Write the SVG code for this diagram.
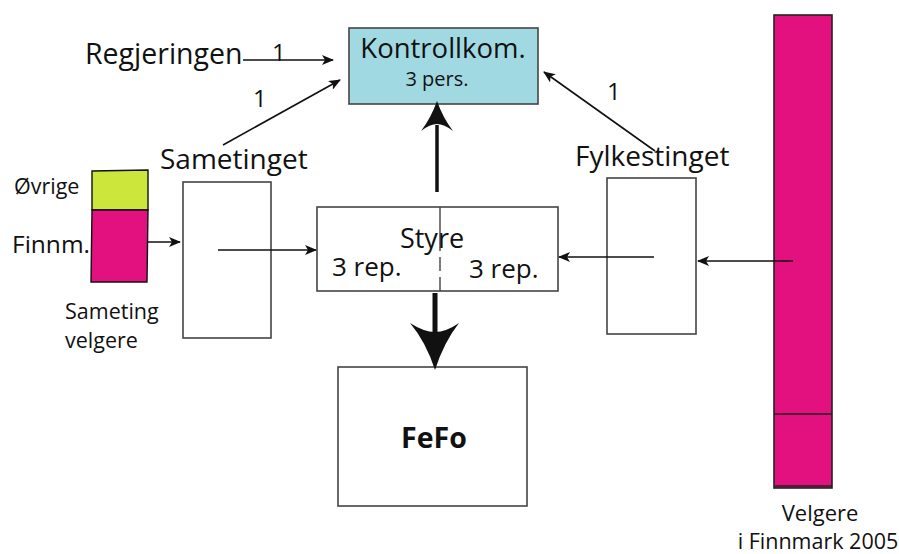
<svg xmlns="http://www.w3.org/2000/svg" width="899" height="554" viewBox="0 0 899 554">
<style>
text{font-family:"Open Sans","Liberation Sans",sans-serif;fill:#111}
.box{fill:#fff;stroke:#444;stroke-width:1.6}
.ln{stroke:#111;stroke-width:1.6;fill:none}
</style>
<defs>
<marker id="ah" viewBox="0 0 12 10" refX="11" refY="5" markerWidth="12" markerHeight="10" markerUnits="userSpaceOnUse" orient="auto">
<path d="M0,0 L12,5 L0,10 L3,5 Z" fill="#111"/>
</marker>
</defs>
<rect width="899" height="554" fill="#fff"/>
<g id="kontrollkom">
<rect x="349" y="28" width="189" height="76" fill="#a0d9e2" stroke="#444" stroke-width="1.6"/>
<text x="443" y="58" font-size="27.5" text-anchor="middle">Kontrollkom.</text>
<text x="437" y="86" font-size="20" text-anchor="middle">3 pers.</text>
</g>
<g id="styre">
<rect class="box" x="317" y="207" width="241" height="84"/>
<line x1="440" y1="207" x2="440" y2="291" stroke="#444" stroke-width="1.4" stroke-dasharray="44,6,14,6,14,6"/>
<text x="432" y="248" font-size="27" text-anchor="middle">Styre</text>
<text x="332" y="276" font-size="26">3 rep.</text>
<text x="469" y="278" font-size="26">3 rep.</text>
</g>
<g id="fefo">
<rect class="box" x="338" y="367" width="189" height="139"/>
<text x="434" y="448" font-size="28.5" font-weight="bold" text-anchor="middle">FeFo</text>
</g>
<g id="sametinget">
<rect class="box" x="183" y="182" width="88" height="156"/>
<text x="160" y="169" font-size="28">Sametinget</text>
</g>
<g id="fylkestinget">
<rect class="box" x="607" y="178" width="89" height="156"/>
<text x="575" y="166" font-size="28">Fylkestinget</text>
</g>
<g id="regjeringen">
<text x="85" y="64" font-size="28.5">Regjeringen</text>
</g>
<g id="sameting-velgere">
<path d="M92,171 L148,170 L148,210 L92,210 Z" fill="#cde63b" stroke="#111" stroke-width="1.4"/>
<path d="M92,210 L148,210 L147,282 L91,282 Z" fill="#e2117f" stroke="#111" stroke-width="1.4"/>
<text x="14" y="194" font-size="21.5">Øvrige</text>
<text x="12" y="253" font-size="24.5">Finnm.</text>
<text x="65" y="319" font-size="21.5">Sameting</text>
<text x="65" y="348" font-size="21.5">velgere</text>
</g>
<g id="velgere">
<rect x="774" y="15" width="58" height="473" fill="#e2117f" stroke="#222" stroke-width="1.6"/>
<path d="M774,414 L832,414 M775,486 L832,486" stroke="#222" stroke-width="1.4"/>
<text x="820" y="521" font-size="22" text-anchor="middle">Velgere</text>
<text x="818" y="549" font-size="21.5" text-anchor="middle">i Finnmark 2005</text>
</g>
<g id="connectors">
<line class="ln" x1="243" y1="60" x2="333" y2="60" marker-end="url(#ah)"/>
<text x="272" y="61" font-size="24">1</text>
<line class="ln" x1="223" y1="145" x2="340" y2="80" marker-end="url(#ah)"/>
<text x="253" y="107" font-size="24">1</text>
<line class="ln" x1="655" y1="151" x2="544" y2="72" marker-end="url(#ah)"/>
<text x="607" y="100" font-size="24">1</text>
<line class="ln" x1="147" y1="242" x2="180" y2="242" marker-end="url(#ah)"/>
<line class="ln" x1="218" y1="250" x2="316" y2="250" marker-end="url(#ah)"/>
<line class="ln" x1="654" y1="257" x2="559" y2="257" stroke="#444" marker-end="url(#ah)"/>
<line class="ln" x1="793" y1="261" x2="698" y2="261" marker-end="url(#ah)"/>
<line x1="437" y1="192" x2="437" y2="125" stroke="#111" stroke-width="3.5"/>
<path d="M437,101 Q443,118 453,131 Q444,124 437,124 Q430,124 421,131 Q431,118 437,101 Z" fill="#111"/>
<line x1="435" y1="293" x2="435" y2="335" stroke="#111" stroke-width="5"/>
<path d="M435,370 Q444,342 459,323 Q446,332 435,332 Q424,332 410,323 Q426,342 435,370 Z" fill="#111"/>
</g>
</svg>
